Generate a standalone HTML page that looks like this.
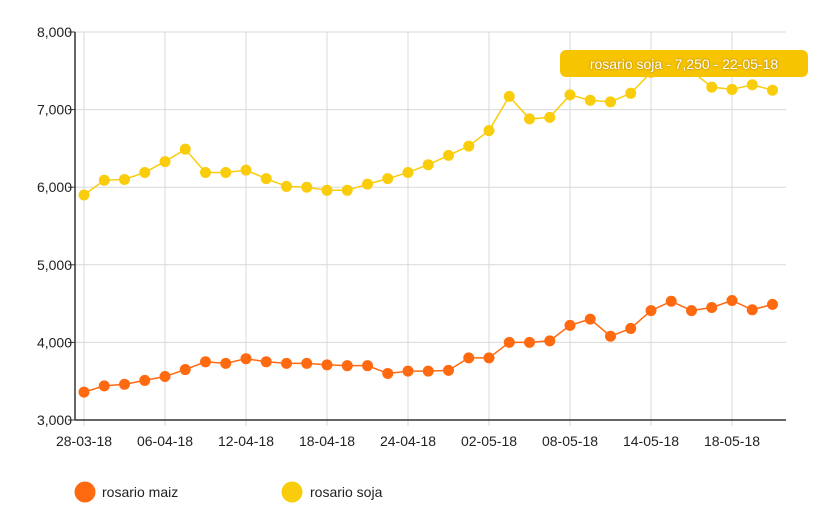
<!DOCTYPE html>
<html><head><meta charset="utf-8"><style>
body{margin:0;background:#fff;font-family:"Liberation Sans",sans-serif}
svg text{font-family:"Liberation Sans",sans-serif}
</style></head><body>
<svg id="c" width="820" height="516" viewBox="0 0 820 516"></svg>
<script>
const categories=["28-03-18","","","","06-04-18","","","","12-04-18","","","","18-04-18","","","","24-04-18","","","","02-05-18","","","","08-05-18","","","","14-05-18","","","","18-05-18","","22-05-18"];
const maiz=[3360,3440,3460,3510,3560,3650,3750,3730,3790,3750,3730,3730,3710,3700,3700,3600,3630,3630,3640,3800,3800,4000,4000,4020,4220,4300,4080,4180,4410,4530,4410,4450,4540,4420,4490];
const soja=[5900,6090,6100,6190,6330,6490,6190,6190,6220,6110,6010,6000,5960,5960,6040,6110,6190,6290,6410,6530,6730,7170,6880,6900,7190,7120,7100,7210,7480,7520,7500,7290,7260,7320,7250];
const yTicks=[3000,4000,5000,6000,7000,8000];
const yLabels=["3,000","4,000","5,000","6,000","7,000","8,000"];
const seriesNames=["rosario maiz","rosario soja"];
const colors=["#ff6a10","#f9cd0b"];
const svg=document.getElementById('c');const NS="http://www.w3.org/2000/svg";
function el(t,a,p){const e=document.createElementNS(NS,t);for(const k in a)e.setAttribute(k,a[k]);(p||svg).appendChild(e);return e;}
const x0=84,dx=20.25,yTop=32,yBot=420,yMin=3000,yMax=8000;
const X=i=>x0+i*dx;const Y=v=>yBot-(v-yMin)/(yMax-yMin)*(yBot-yTop);
yTicks.forEach((v,i)=>{
 const g=el('line',{x1:75,x2:786,y1:Y(v),y2:Y(v),stroke:'#d8d8d8'});
 
 el('line',{x1:68,x2:75,y1:Y(v),y2:Y(v),stroke:'#333'});
 const t=el('text',{x:72,y:Y(v)+5,'text-anchor':'end','font-size':14,fill:'#222'});t.textContent=yLabels[i];
 
});
categories.forEach((c,i)=>{if(!c||i==34)return;
 const g=el('line',{x1:X(i),x2:X(i),y1:yTop,y2:yBot+6,stroke:'#d8d8d8'});
 
 const t=el('text',{x:X(i),y:446,'text-anchor':'middle','font-size':14,fill:'#222'});t.textContent=c;
 
});
el('line',{x1:75,x2:75,y1:yTop,y2:yBot,stroke:'#333','stroke-width':1.5});
el('line',{x1:75,x2:786,y1:yBot,y2:yBot,stroke:'#333','stroke-width':1.5});
[maiz,soja].forEach((s,k)=>{
 const p=el('polyline',{points:s.map((v,i)=>X(i)+','+Y(v)).join(' '),fill:'none',stroke:colors[k],'stroke-width':1.5});
 
 s.forEach((v,i)=>{const c=el('circle',{cx:X(i),cy:Y(v),r:5.5,fill:colors[k]});
  });
});
const tg=el('g',{});
el('rect',{x:560,y:50,width:248,height:27,rx:6,fill:'#f6c400'},tg);
const tt=el('text',{x:684,y:69,'text-anchor':'middle','font-size':14,fill:'#fff',style:'text-shadow:0 0 2px #a07000'},tg);
tt.textContent="rosario soja - "+soja[34].toLocaleString('en-US')+" - "+categories[34];
[[85,102],[292,310]].forEach((p,k)=>{
 const g=el('g',{});
 el('circle',{cx:p[0],cy:492,r:10.5,fill:colors[k]},g);
 const t=el('text',{x:p[1],y:497,'font-size':14,fill:'#222'},g);t.textContent=seriesNames[k];
});
</script></body></html>
